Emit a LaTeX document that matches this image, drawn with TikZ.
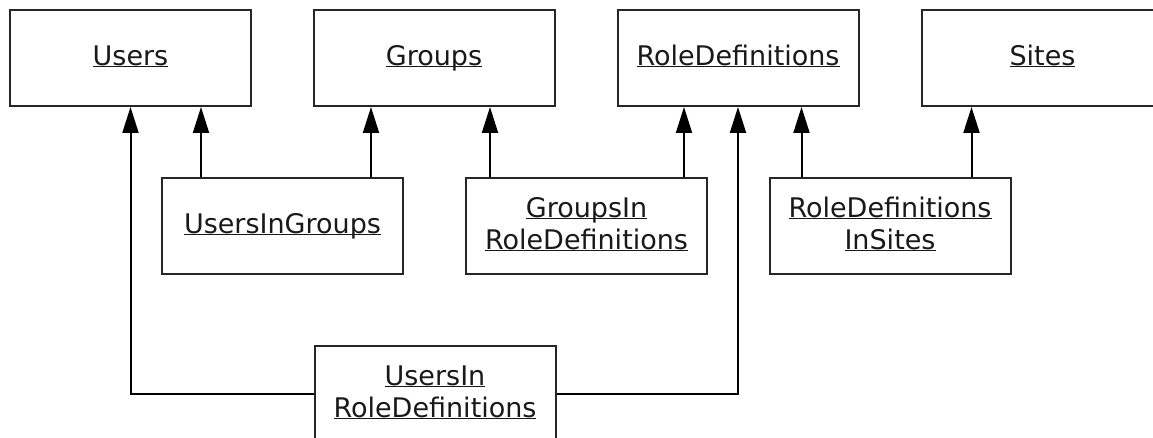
\documentclass[tikz,border=0pt]{standalone}
\usepackage{fontspec}
\setmainfont{DejaVu Sans}
\usetikzlibrary{arrows.meta}
\newcommand\ulx[1]{\underline{\smash{#1}}\vphantom{Ag}}
\begin{document}
\begin{tikzpicture}[x=1pt,y=-1pt,
  box/.style={draw=black!85, line width=2pt, rectangle, minimum width=241pt, minimum height=96pt,
    align=center, inner sep=0pt, font=\fontsize{27}{32}\selectfont, text=black!90},
  arr/.style={draw=black, line width=2pt, -{Triangle[length=26pt,width=16pt]}},
  conn/.style={draw=black, line width=2pt}]
\useasboundingbox (0,0) rectangle (1153,438);
\clip (0,0) rectangle (1153,438);
\node[box] (users) at (130.5,58) {\ulx{Users}};
\node[box] (groups) at (434,58) {\ulx{Groups}};
\node[box] (roledef) at (738,58) {\ulx{RoleDefinitions}};
\node[box] (sites) at (1042.5,58) {\ulx{Sites}};
\node[box] (uig) at (282.5,226) {\ulx{UsersInGroups}};
\node[box] (gird) at (586.5,226) {\ulx{GroupsIn}\\\ulx{RoleDefinitions}};
\node[box] (rdis) at (890,226) {\ulx{RoleDefinitions}\\\ulx{InSites}};
\node[box] (uird) at (435,394) {\ulx{UsersIn}\\\ulx{RoleDefinitions}};
% UsersInGroups
\draw[arr] ([xshift=40pt]uig.north west) -- ([xshift=40pt]uig.north west |- users.south);
\draw[arr] ([xshift=-33pt]uig.north east) -- ([xshift=-33pt]uig.north east |- groups.south);
% GroupsInRoleDefinitions
\draw[arr] ([xshift=25pt]gird.north west) -- ([xshift=25pt]gird.north west |- groups.south);
\draw[arr] ([xshift=-24pt]gird.north east) -- ([xshift=-24pt]gird.north east |- roledef.south);
% RoleDefinitionsInSites
\draw[arr] ([xshift=33pt]rdis.north west) -- ([xshift=33pt]rdis.north west |- roledef.south);
\draw[arr] ([xshift=-40pt]rdis.north east) -- ([xshift=-40pt]rdis.north east |- sites.south);
% UsersInRoleDefinitions
\draw[arr] (uird.west) -| (users.south);
\draw[arr] (uird.east) -| (roledef.south);
\end{tikzpicture}
\end{document}
